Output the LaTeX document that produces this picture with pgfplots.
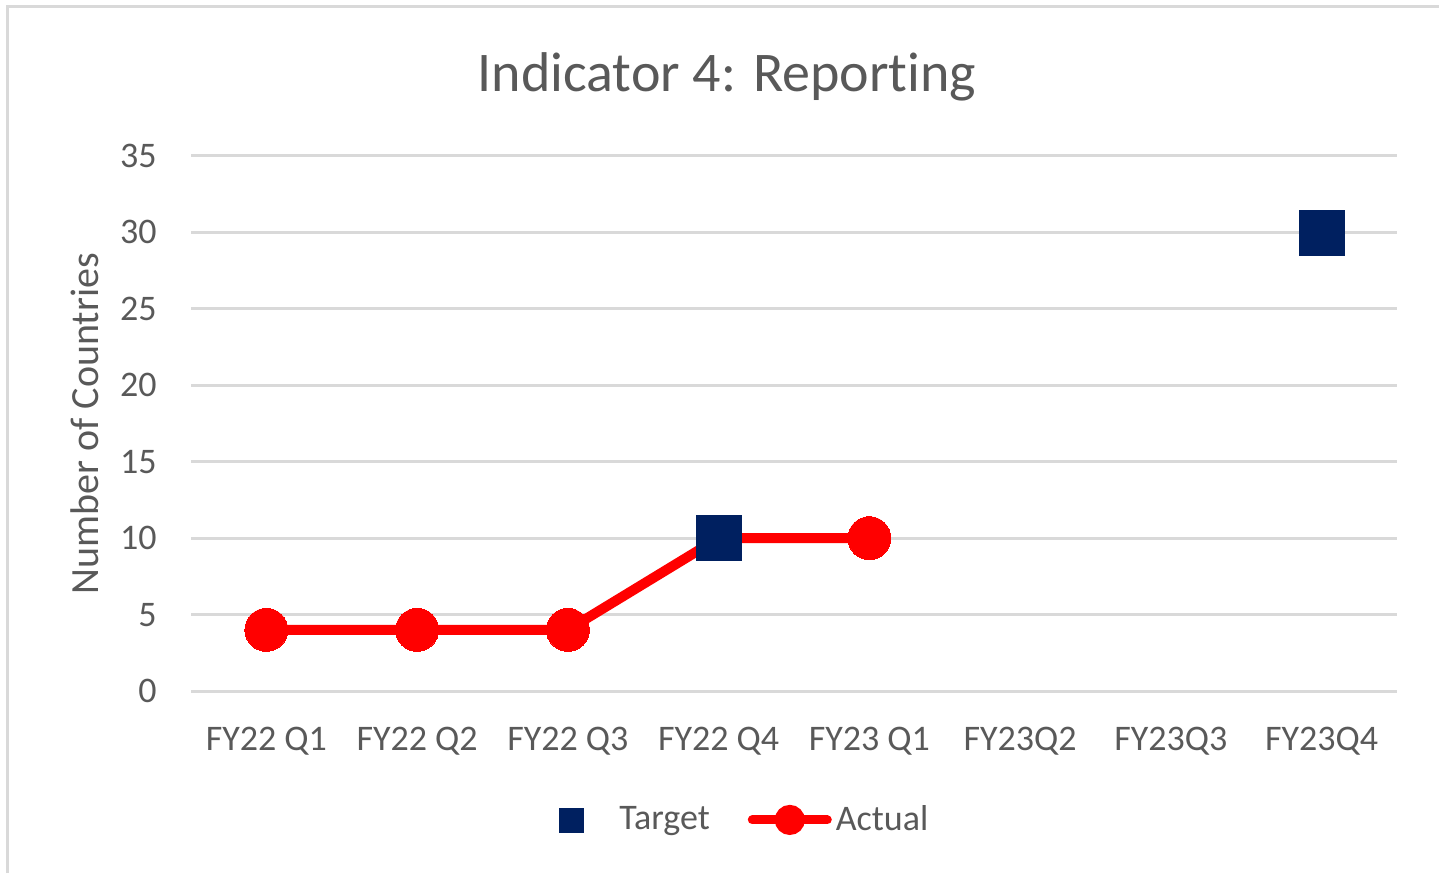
\documentclass[border=0pt]{standalone}
\usepackage{fontspec}
\setmainfont{Carlito}[Ligatures={NoCommon}]
\usepackage{pgfplots}
\pgfplotsset{compat=1.18}
\definecolor{txt}{HTML}{595959}
\definecolor{grd}{HTML}{D9D9D9}
\definecolor{navyc}{HTML}{002060}
\definecolor{redc}{HTML}{FF0000}
\begin{document}
\begin{tikzpicture}
\path[use as bounding box] (0,0) rectangle (719.5pt,436.5pt);
\draw[grd, line width=1.6pt] (3.75pt,0) -- (3.75pt,433.25pt) -- (719.5pt,433.25pt);
\begin{axis}[
  at={(95.5pt,91pt)}, anchor=south west,
  scale only axis, width=603pt, height=267.5pt,
  xmin=-0.5, xmax=7.5, ymin=0, ymax=35,
  xtick={0,1,2,3,4,5,6,7},
  xticklabels={FY22 Q1,FY22 Q2,FY22 Q3,FY22 Q4,FY23 Q1,FY23Q2,FY23Q3,FY23Q4},
  ytick={0,5,10,15,20,25,30,35},
  ymajorgrids, grid style={grd, line width=1.5pt},
  axis line style={draw=none},
  major tick length=0pt,
  tick label style={text=txt, font=\fontsize{18}{22}\selectfont},
  xticklabel style={anchor=base, yshift=-29.5pt},
  yticklabel style={anchor=east, inner sep=0pt, xshift=-17pt},
  /pgf/number format/assume math mode=true,
  ylabel={Number of Countries},
  ylabel style={at={(axis description cs:-0.0879,0.5)}, anchor=center, text=txt, font=\fontsize{20}{24}\selectfont},
  title={Indicator 4: Reporting},
  title style={at={(axis description cs:0.4444,1.125)}, anchor=center, text=txt, font=\fontsize{28}{34}\selectfont},
  legend style={at={(axis description cs:0.3051,-0.241)}, anchor=west, draw=none, fill=none,
    inner sep=0pt, outer sep=0pt, font=\fontsize{18}{22}\selectfont, text=txt,
    /tikz/every even column/.append style={column sep=17pt}},
  legend columns=2,
  clip=false,
]
\addplot[only marks, mark=square*, mark size=11.25pt, color=navyc,
  legend image code/.code={\fill[navyc] (0pt,-6pt) rectangle (12pt,6pt); \path[draw=none] (0pt,0pt) -- (28pt,0pt);}]
  coordinates {(3,10) (7,30)};
\addlegendentry{Target}
\addplot[redc, line width=5pt, mark=*, mark size=10.75pt, mark options={solid, fill=redc, draw=redc, line width=0pt},
  legend image code/.code={\draw[redc, line width=4.5pt, line cap=round] (2.25pt,0pt) -- (39.75pt,0pt); \fill[redc] (21pt,0pt) circle (5pt); \path[draw=none] (0pt,0pt) -- (40pt,0pt);}]
  coordinates {(0,4) (1,4) (2,4) (3,10) (4,10)};
\addlegendentry{Actual}
\addplot[forget plot, only marks, mark=square*, mark size=11.25pt, color=navyc]
  coordinates {(3,10) (7,30)};
\end{axis}
\end{tikzpicture}
\end{document}
